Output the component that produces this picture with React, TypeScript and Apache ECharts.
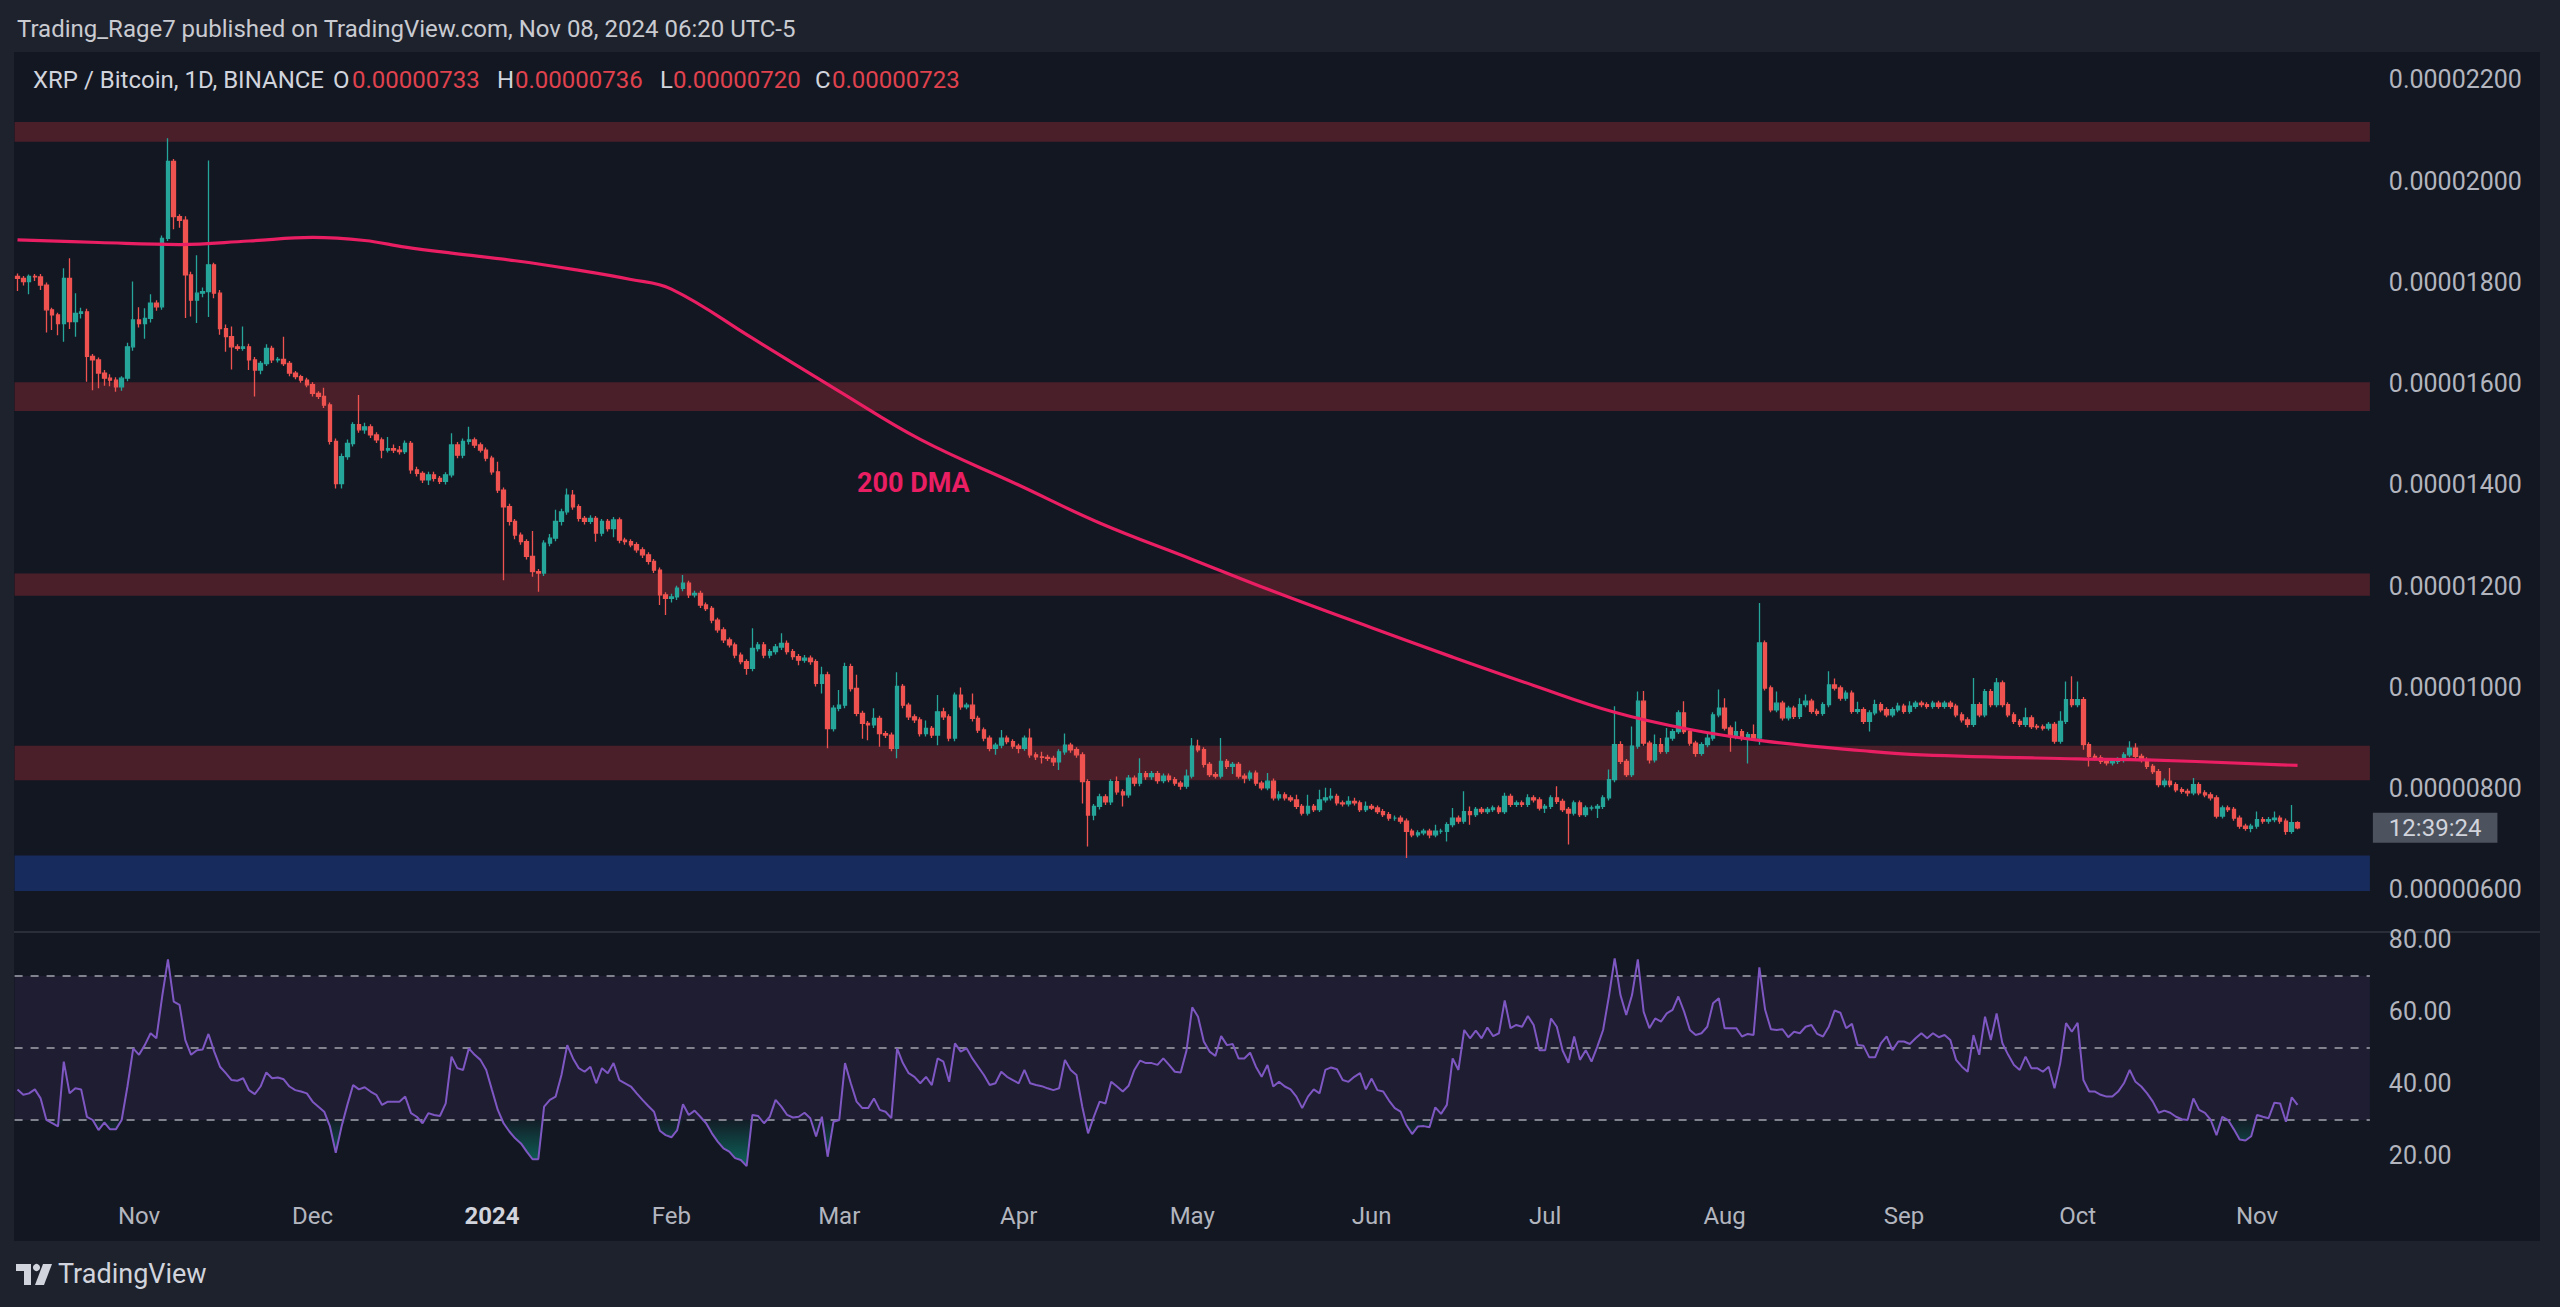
import React, { useEffect, useRef } from "react";
import * as echarts from "echarts";

const FONT = "Roboto, 'Liberation Sans', sans-serif";
const UP = "#26a69a";
const DOWN = "#ef5350";
const TEXT = "#b2b5be";

// ---- time range (daily) ----
const START_DATE = "2023-10-11";
const NUM_DAYS = 407; // through 2024-11-20 (empty right margin)
const MONTHS = ["Jan", "Feb", "Mar", "Apr", "May", "Jun", "Jul", "Aug", "Sep", "Oct", "Nov", "Dec"];

// ---- price data in satoshis (1e-8 BTC) ----
const firstOpen = 1812;
const closeOct23 = [1808, 1802, 1812, 1811, 1795, 1746, 1736, 1719, 1808, 1723, 1739, 1742, 1654, 1647, 1621, 1611, 1607, 1594, 1611, 1673, 1726];
const upOct23 = [6, 5, 4, 5, 6, 5, 4, 4, 20, 40, 40, 8, 6, 5, 5, 6, 8, 6, 4, 8, 76];
const dnOct23 = [25, 8, 25, 8, 10, 45, 30, 23, 36, 15, 30, 10, 50, 60, 30, 15, 12, 10, 8, 6, 8];

const closeNov23 = [1719, 1729, 1759, 1752, 1887, 2039, 1930, 1923, 1815, 1765, 1779, 1782, 1835, 1779, 1709, 1693, 1673, 1670, 1673, 1647, 1627, 1640, 1670, 1647, 1648, 1640, 1621, 1614, 1607, 1598];
const upNov23 = [25, 20, 18, 6, 6, 46, 5, 5, 8, 6, 75, 8, 206, 4, 6, 8, 20, 5, 40, 6, 6, 5, 8, 5, 5, 45, 5, 4, 4, 5];
const dnNov23 = [8, 30, 8, 8, 6, 5, 25, 15, 85, 32, 45, 8, 50, 10, 12, 30, 45, 5, 5, 20, 52, 8, 5, 6, 5, 5, 6, 5, 5, 5];

const closeDec23 = [1581, 1575, 1558, 1486, 1403, 1456, 1482, 1519, 1509, 1515, 1499, 1489, 1469, 1472, 1469, 1466, 1482, 1430, 1423, 1410, 1420, 1413, 1407, 1420, 1479, 1459, 1486, 1489, 1479, 1469, 1453];
const upDec23 = [5, 4, 17, 5, 6, 6, 8, 5, 59, 8, 5, 5, 5, 23, 8, 8, 6, 5, 6, 4, 6, 6, 5, 5, 23, 6, 6, 26, 5, 5, 5];
const dnDec23 = [6, 5, 6, 6, 10, 10, 6, 6, 6, 8, 6, 6, 16, 5, 6, 6, 5, 8, 6, 6, 10, 6, 5, 6, 5, 6, 6, 6, 6, 5, 6];

const closeJan24 = [1426, 1390, 1357, 1328, 1301, 1288, 1259, 1229, 1226, 1285, 1295, 1328, 1347, 1380, 1357, 1334, 1328, 1334, 1305, 1328, 1314, 1331, 1291, 1288, 1282, 1272, 1262, 1249, 1232, 1183, 1176];
const upJan24 = [5, 20, 5, 6, 5, 5, 5, 50, 5, 6, 8, 23, 6, 13, 10, 5, 5, 6, 5, 5, 5, 6, 5, 5, 5, 5, 5, 5, 5, 5, 5];
const dnJan24 = [6, 6, 145, 8, 8, 6, 6, 10, 37, 6, 6, 6, 8, 6, 6, 6, 6, 5, 17, 6, 6, 17, 6, 6, 5, 6, 6, 6, 6, 20, 33];

const closeFeb24 = [1179, 1196, 1206, 1183, 1186, 1163, 1156, 1133, 1114, 1094, 1084, 1064, 1051, 1038, 1077, 1084, 1064, 1071, 1080, 1087, 1071, 1061, 1054, 1058, 1051, 1008, 1025, 919, 959];
const upFeb24 = [6, 5, 16, 5, 5, 5, 5, 5, 5, 5, 5, 5, 5, 5, 40, 6, 6, 5, 6, 20, 6, 5, 5, 6, 5, 5, 16, 6, 6];
const dnFeb24 = [8, 6, 6, 6, 5, 6, 5, 6, 6, 6, 5, 6, 5, 13, 6, 6, 6, 6, 6, 6, 6, 6, 10, 5, 6, 6, 20, 39, 6];

const closeMar24 = [965, 1041, 998, 949, 929, 926, 939, 909, 906, 880, 1002, 965, 942, 936, 909, 919, 906, 952, 942, 900, 985, 962, 965, 939, 916, 900, 880, 886, 900, 893, 884];
const upMar24 = [30, 8, 6, 27, 5, 5, 20, 5, 5, 5, 28, 5, 5, 5, 5, 16, 5, 33, 8, 5, 5, 15, 5, 23, 5, 5, 5, 5, 16, 5, 5];
const dnMar24 = [6, 6, 6, 6, 30, 30, 6, 26, 6, 6, 20, 6, 6, 6, 6, 6, 6, 20, 6, 6, 6, 6, 5, 6, 6, 6, 6, 13, 6, 5, 5];

const closeApr24 = [880, 900, 867, 863, 862, 860, 853, 873, 886, 877, 867, 814, 748, 765, 784, 774, 814, 794, 788, 821, 811, 830, 824, 830, 816, 825, 818, 811, 805, 825];
const upApr24 = [5, 5, 19, 5, 10, 5, 5, 5, 23, 5, 5, 5, 5, 5, 6, 5, 5, 10, 5, 6, 5, 30, 5, 5, 5, 5, 5, 5, 5, 13];
const dnApr24 = [10, 5, 6, 6, 12, 5, 8, 16, 6, 6, 6, 43, 62, 10, 6, 6, 6, 6, 23, 6, 6, 6, 6, 6, 6, 5, 5, 5, 7, 5];

const closeMay24 = [884, 877, 848, 828, 825, 854, 844, 848, 825, 821, 831, 811, 802, 815, 782, 788, 782, 778, 765, 752, 765, 759, 778, 782, 785, 772, 770, 775, 772, 759, 765];
const upMay24 = [16, 13, 5, 5, 5, 46, 5, 5, 5, 5, 5, 5, 5, 16, 5, 7, 5, 5, 10, 5, 23, 5, 20, 20, 16, 5, 5, 10, 7, 5, 10];
const dnMay24 = [5, 5, 6, 5, 5, 5, 5, 15, 5, 10, 5, 5, 5, 5, 5, 5, 5, 4, 5, 5, 5, 5, 5, 5, 5, 5, 5, 5, 5, 5, 5];

const closeJun24 = [762, 755, 749, 742, 742, 736, 716, 709, 713, 716, 709, 716, 716, 729, 742, 736, 755, 749, 759, 755, 759, 762, 755, 785, 769, 772, 769, 782, 778, 762];
const upJun24 = [5, 5, 5, 5, 5, 5, 5, 5, 5, 5, 5, 13, 5, 5, 20, 5, 40, 10, 5, 5, 5, 5, 5, 7, 5, 5, 5, 7, 5, 5];
const dnJun24 = [4, 5, 5, 5, 5, 5, 53, 5, 5, 5, 7, 5, 5, 20, 5, 5, 5, 20, 5, 5, 5, 5, 5, 5, 5, 5, 5, 5, 5, 5];

const closeJul24 = [765, 782, 775, 759, 752, 772, 749, 762, 762, 765, 782, 818, 887, 854, 828, 884, 973, 890, 857, 887, 874, 900, 913, 950, 913, 890, 870, 887, 900, 946, 959];
const upJul24 = [5, 5, 23, 5, 5, 5, 5, 5, 5, 5, 5, 20, 76, 7, 5, 39, 19, 20, 5, 20, 13, 20, 5, 5, 23, 5, 5, 5, 10, 5, 37];
const dnJul24 = [10, 5, 5, 5, 62, 5, 5, 5, 5, 20, 5, 5, 5, 5, 5, 5, 5, 5, 7, 5, 5, 5, 5, 5, 5, 5, 7, 5, 5, 5, 5];

const closeAug24 = [920, 903, 913, 900, 907, 900, 1088, 999, 956, 969, 940, 959, 943, 966, 973, 953, 949, 966, 1005, 999, 979, 989, 953, 956, 933, 950, 966, 956, 946, 956, 963];
const upAug24 = [20, 5, 20, 5, 5, 20, 79, 5, 5, 23, 5, 5, 5, 13, 13, 5, 5, 5, 27, 13, 5, 5, 5, 16, 5, 5, 10, 5, 5, 5, 7];
const dnAug24 = [5, 30, 5, 5, 50, 5, 13, 5, 5, 5, 5, 5, 5, 5, 5, 5, 5, 5, 5, 5, 5, 5, 5, 5, 5, 20, 5, 5, 5, 5, 5];

const closeSep24 = [953, 963, 969, 966, 963, 969, 963, 969, 963, 946, 936, 927, 966, 946, 992, 966, 1009, 966, 946, 933, 927, 940, 923, 922, 920, 927, 894, 933, 976, 966];
const upSep24 = [5, 10, 5, 5, 5, 5, 5, 5, 5, 5, 5, 5, 53, 5, 5, 5, 10, 5, 5, 5, 5, 20, 5, 5, 5, 5, 5, 20, 36, 46];
const dnSep24 = [5, 5, 5, 5, 5, 5, 5, 5, 5, 5, 5, 6, 5, 5, 5, 5, 5, 5, 5, 5, 5, 5, 5, 5, 5, 5, 5, 5, 5, 5];

const closeOct24 = [976, 887, 864, 861, 854, 851, 854, 857, 867, 880, 864, 857, 844, 834, 808, 815, 808, 798, 795, 792, 808, 792, 788, 782, 746, 762, 759, 742, 726, 722, 726];
const upOct24 = [36, 5, 5, 5, 5, 5, 5, 5, 5, 14, 10, 5, 5, 5, 5, 5, 26, 5, 5, 5, 13, 5, 5, 5, 5, 5, 5, 5, 5, 5, 5];
const dnOct24 = [5, 10, 20, 5, 5, 5, 5, 5, 5, 5, 5, 5, 5, 5, 5, 5, 5, 5, 5, 7, 5, 5, 5, 5, 5, 5, 5, 5, 5, 5, 8];

const closeNov24 = [739, 736, 739, 742, 736, 716, 733, 723];
const upNov24 = [16, 5, 5, 13, 5, 5, 35, 3];
const dnNov24 = [5, 5, 5, 5, 5, 7, 5, 3];

// ---- RSI (14) ----
const rsiOct23 = [38.5, 37.0, 37.4, 38.5, 36.0, 30.0, 29.1, 28.2, 46.2, 37.4, 38.8, 38.5, 30.9, 30.0, 27.2, 29.3, 27.4, 27.4, 30.0, 39.3, 49.9];
const rsiNov23 = [48.1, 50.8, 54.1, 52.7, 64.3, 74.6, 62.9, 62.0, 52.2, 48.1, 49.4, 49.6, 53.9, 49.0, 44.8, 43.0, 41.1, 40.9, 41.6, 38.3, 37.2, 39.3, 43.2, 41.6, 41.8, 41.3, 39.3, 38.3, 37.9, 37.4];
const rsiDec23 = [35.1, 33.7, 32.3, 28.2, 20.9, 28.2, 34.2, 39.7, 38.5, 39.1, 37.9, 37.0, 34.2, 35.1, 35.1, 35.1, 36.5, 31.9, 30.9, 29.1, 31.9, 31.4, 31.1, 34.6, 47.6, 44.4, 43.9, 49.9, 48.1, 46.7, 43.9];
const rsiJan24 = [38.3, 32.8, 29.1, 26.8, 24.9, 23.5, 21.2, 19.1, 19.1, 33.7, 35.6, 36.5, 42.5, 50.8, 47.1, 44.4, 43.4, 44.8, 40.2, 44.4, 43.0, 45.8, 41.1, 40.2, 39.3, 37.4, 35.6, 33.9, 32.3, 27.0, 25.8];
const rsiFeb24 = [25.2, 27.2, 34.4, 31.4, 32.6, 30.9, 29.1, 26.3, 24.0, 22.1, 21.2, 19.4, 18.9, 17.2, 31.4, 31.1, 29.1, 30.9, 35.6, 33.7, 31.4, 30.7, 30.9, 32.0, 30.5, 25.4, 30.9, 19.8, 29.5];
const rsiMar24 = [30.0, 45.8, 40.2, 35.1, 33.3, 33.3, 36.0, 32.8, 32.3, 30.5, 49.9, 45.8, 43.0, 42.0, 40.2, 42.0, 39.7, 47.1, 46.2, 40.6, 51.3, 49.0, 49.9, 47.1, 44.8, 42.5, 39.7, 40.2, 43.4, 42.0, 41.1];
const rsiApr24 = [40.2, 43.9, 40.2, 39.7, 39.4, 38.8, 38.3, 38.8, 46.7, 43.9, 42.5, 33.7, 26.3, 30.9, 35.1, 34.6, 40.6, 39.3, 37.9, 39.5, 43.9, 46.5, 45.8, 45.8, 45.3, 47.1, 45.3, 43.4, 43.2, 49.2];
const rsiMay24 = [61.3, 58.7, 51.8, 49.0, 47.8, 53.3, 50.8, 51.1, 47.1, 47.1, 48.7, 44.8, 42.0, 45.3, 39.3, 40.6, 39.3, 38.5, 36.5, 33.3, 36.5, 38.5, 37.4, 43.9, 44.6, 44.1, 41.1, 40.6, 42.0, 43.0, 38.5];
const rsiJun24 = [41.5, 38.3, 37.9, 35.4, 33.3, 32.3, 28.6, 26.1, 28.2, 28.3, 28.0, 33.5, 31.7, 34.2, 47.1, 43.9, 55.0, 52.7, 54.8, 52.7, 55.7, 53.3, 54.1, 63.2, 55.5, 56.4, 55.9, 58.9, 56.4, 49.4];
const rsiJul24 = [49.4, 58.2, 55.9, 49.3, 45.9, 53.2, 46.7, 49.4, 46.2, 50.4, 55.0, 64.3, 74.9, 64.7, 59.2, 64.7, 74.6, 60.1, 55.5, 58.2, 57.3, 59.6, 60.6, 64.3, 60.1, 55.0, 53.6, 54.1, 55.9, 62.4, 63.8];
const rsiAug24 = [55.5, 55.5, 55.5, 53.2, 53.9, 53.6, 72.4, 60.6, 55.2, 55.0, 55.2, 53.0, 54.5, 54.1, 55.9, 56.4, 53.9, 53.2, 55.9, 60.4, 59.8, 55.5, 56.7, 50.8, 50.6, 47.4, 47.4, 51.3, 53.2, 49.4, 51.8];
const rsiSep24 = [51.8, 51.1, 52.7, 54.1, 52.7, 54.1, 53.0, 53.6, 52.2, 46.7, 44.8, 43.4, 53.6, 48.1, 58.7, 52.2, 59.6, 51.3, 48.1, 45.3, 43.9, 47.6, 44.4, 44.4, 43.4, 44.8, 38.8, 45.8, 56.9, 54.5];
const rsiOct24 = [57.0, 41.1, 37.9, 37.9, 37.0, 36.5, 36.5, 37.9, 40.2, 43.9, 40.6, 39.3, 37.4, 35.1, 32.0, 32.6, 32.0, 30.9, 30.2, 30.0, 36.0, 32.8, 32.0, 30.0, 25.8, 30.9, 30.0, 27.4, 24.6, 24.3, 25.5];
const rsiNov24 = [31.4, 30.9, 30.5, 34.8, 34.6, 29.5, 36.3, 34.2];

// ---- 200-day moving average (read at anchor dates) ----
const dmaDates = ["2023-10-11", "2023-10-25", "2023-11-08", "2023-11-20", "2023-12-01", "2023-12-10", "2023-12-17", "2023-12-25", "2024-01-05", "2024-01-15", "2024-01-25", "2024-02-01", "2024-02-15", "2024-03-01", "2024-03-15", "2024-04-01", "2024-04-15", "2024-05-01", "2024-05-15", "2024-06-01", "2024-06-15", "2024-06-29", "2024-07-13", "2024-07-26", "2024-08-08", "2024-08-25", "2024-09-04", "2024-10-01", "2024-10-13", "2024-11-08"];
const dmaValues = [1884, 1879, 1875, 1882, 1889, 1883, 1870, 1858, 1843, 1826, 1806, 1787, 1690, 1585, 1490, 1400, 1325, 1253, 1190, 1118, 1060, 1004, 951, 917, 894, 875, 867, 859, 857, 846];

// ---- horizontal zones (satoshis) ----
const resistanceZones = [[2078, 2117], [1546, 1603], [1181, 1225], [817, 885]];
const supportZone = [598, 668];

const priceTicks = [600, 800, 1000, 1200, 1400, 1600, 1800, 2000, 2200];
const rsiTicks = [20, 40, 60, 80];
const rsiLevels = [70, 50, 30];

// ---- assemble ----
const closes = [...closeOct23, ...closeNov23, ...closeDec23, ...closeJan24, ...closeFeb24, ...closeMar24, ...closeApr24, ...closeMay24, ...closeJun24, ...closeJul24, ...closeAug24, ...closeSep24, ...closeOct24, ...closeNov24];
const ups = [...upOct23, ...upNov23, ...upDec23, ...upJan24, ...upFeb24, ...upMar24, ...upApr24, ...upMay24, ...upJun24, ...upJul24, ...upAug24, ...upSep24, ...upOct24, ...upNov24];
const dns = [...dnOct23, ...dnNov23, ...dnDec23, ...dnJan24, ...dnFeb24, ...dnMar24, ...dnApr24, ...dnMay24, ...dnJun24, ...dnJul24, ...dnAug24, ...dnSep24, ...dnOct24, ...dnNov24];
const rsi = [...rsiOct23, ...rsiNov23, ...rsiDec23, ...rsiJan24, ...rsiFeb24, ...rsiMar24, ...rsiApr24, ...rsiMay24, ...rsiJun24, ...rsiJul24, ...rsiAug24, ...rsiSep24, ...rsiOct24, ...rsiNov24];

const DAY = 86400000;
const startMs = Date.parse(START_DATE + "T00:00:00Z");
const categories = Array.from({ length: NUM_DAYS }, (_, i) => new Date(startMs + i * DAY).toISOString().slice(0, 10));

const candles = closes.map((c, i) => {
  const o = i === 0 ? firstOpen : closes[i - 1];
  const hi = Math.max(o, c) + (ups[i] ?? 4);
  const lo = Math.min(o, c) - (dns[i] ?? 4);
  return [o, c, lo, hi];
});
const last = candles[candles.length - 1];
const fmtPrice = (v: number) => (v / 1e8).toFixed(8);

const dmaMap: Record<string, number> = {};
dmaDates.forEach((d, i) => (dmaMap[d] = dmaValues[i]));
const dmaSeries = categories.map((d) => (d in dmaMap ? dmaMap[d] : null));

// layout constants
const DAY_PX = 5.7869;
const GRID_LEFT = 14.6;
const GRID_WIDTH = NUM_DAYS * DAY_PX;

function buildOption(): any {
  const txt = (text: string, x: number, y: number, fill: string, size = 24, weight: any = "normal", align = "left") => ({
    type: "text",
    x,
    y,
    z: 100,
    silent: true,
    style: { text, fill, fontSize: size, fontWeight: weight, fontFamily: FONT, align, verticalAlign: "middle" },
  });
  const red = "#e0424e";
  const graphic: any[] = [
    txt("Trading_Rage7 published on TradingView.com, Nov 08, 2024 06:20 UTC-5", 17, 29, "#c9cbd1", 24),
    txt("XRP / Bitcoin, 1D, BINANCE", 33, 80, "#d1d4dc", 24),
    txt("O", 333, 80, "#d1d4dc", 24),
    txt(fmtPrice(last[0]), 352, 80, red, 24),
    txt("H", 497, 80, "#d1d4dc", 24),
    txt(fmtPrice(last[3]), 515, 80, red, 24),
    txt("L", 660, 80, "#d1d4dc", 24),
    txt(fmtPrice(last[2]), 673, 80, red, 24),
    txt("C", 815, 80, "#d1d4dc", 24),
    txt(fmtPrice(last[1]), 832, 80, red, 24),
    txt("200 DMA", 857, 483, "#e91e63", 27, "bold"),
    // footer logo
    { type: "polygon", z: 100, silent: true, shape: { points: [[16, 1264], [31, 1264], [31, 1285], [24, 1285], [24, 1271], [16, 1271]] }, style: { fill: "#d1d4dc" } },
    { type: "circle", z: 100, silent: true, shape: { cx: 36.5, cy: 1267.5, r: 3.6 }, style: { fill: "#d1d4dc" } },
    { type: "polygon", z: 100, silent: true, shape: { points: [[43, 1264], [52, 1264], [44, 1285], [35, 1285]] }, style: { fill: "#d1d4dc" } },
    txt("TradingView", 58, 1274, "#d1d4dc", 27),
  ];

  const oversoldGrad = new echarts.graphic.LinearGradient(0, 0, 0, 1, [
    { offset: 0, color: "rgba(8,153,129,0.05)" },
    { offset: 1, color: "rgba(8,153,129,0.6)" },
  ]);

  return {
    animation: false,
    backgroundColor: "transparent",
    textStyle: { fontFamily: FONT },
    grid: [
      { left: GRID_LEFT, width: GRID_WIDTH, top: 52, height: 879 },
      { left: GRID_LEFT, width: GRID_WIDTH, top: 932, height: 260 },
    ],
    xAxis: [
      { type: "category", gridIndex: 0, data: categories, boundaryGap: true, show: false },
      {
        type: "category",
        gridIndex: 1,
        data: categories,
        boundaryGap: true,
        axisLine: { show: false },
        axisTick: { show: false },
        splitLine: { show: false },
        axisLabel: {
          interval: (_i: number, v: string) => v.slice(8) === "01",
          formatter: (v: string) => {
            const m = parseInt(v.slice(5, 7), 10);
            return m === 1 ? "{b|" + v.slice(0, 4) + "}" : MONTHS[m - 1];
          },
          color: TEXT,
          fontSize: 24,
          fontFamily: FONT,
          margin: 12,
          rich: { b: { fontWeight: "bold", color: "#d1d4dc", fontSize: 24, fontFamily: FONT } },
        },
      },
    ],
    yAxis: [
      {
        type: "value",
        gridIndex: 0,
        position: "right",
        min: 519,
        max: 2255.3,
        axisLine: { show: false },
        axisTick: { show: false },
        splitLine: { show: false },
        axisLabel: { customValues: priceTicks, formatter: (v: number) => fmtPrice(v), color: TEXT, fontSize: 25, fontFamily: FONT, margin: 19 },
      },
      {
        type: "value",
        gridIndex: 1,
        position: "right",
        min: 10,
        max: 82.22,
        axisLine: { show: false },
        axisTick: { show: false },
        splitLine: { show: false },
        axisLabel: { customValues: rsiTicks, formatter: (v: number) => v.toFixed(2), color: TEXT, fontSize: 25, fontFamily: FONT, margin: 19 },
      },
    ],
    series: [
      {
        type: "candlestick",
        xAxisIndex: 0,
        yAxisIndex: 0,
        data: candles,
        barWidth: 4,
        itemStyle: { color: UP, color0: DOWN, borderColor: UP, borderColor0: DOWN, borderWidth: 1.3 },
        markArea: {
          silent: true,
          data: [
            ...resistanceZones.map((z) => [{ yAxis: z[0], itemStyle: { color: "rgba(242,54,69,0.25)" } }, { yAxis: z[1] }]),
            [{ yAxis: supportZone[0], itemStyle: { color: "rgba(41,98,255,0.27)" } }, { yAxis: supportZone[1] }],
          ],
        },
        markLine: {
          silent: true,
          symbol: ["none", "none"],
          lineStyle: { width: 0, color: "rgba(0,0,0,0)" },
          data: [{ yAxis: last[1] }],
          label: {
            show: true,
            position: "end",
            distance: 3,
            formatter: "12:39:24",
            backgroundColor: "#4c525e",
            color: "#d1d4dc",
            fontSize: 24,
            fontFamily: FONT,
            padding: [3, 16, 3, 16],
          },
        },
      },
      {
        type: "line",
        xAxisIndex: 0,
        yAxisIndex: 0,
        data: dmaSeries,
        connectNulls: true,
        smooth: 0.4,
        showSymbol: false,
        symbol: "none",
        silent: true,
        lineStyle: { color: "#e91e63", width: 3.2 },
        z: 3,
      },
      {
        type: "line",
        xAxisIndex: 1,
        yAxisIndex: 1,
        stack: "os",
        data: rsi.map((v) => Math.min(v, 30)),
        symbol: "none",
        silent: true,
        lineStyle: { width: 0, opacity: 0 },
      },
      {
        type: "line",
        xAxisIndex: 1,
        yAxisIndex: 1,
        stack: "os",
        data: rsi.map((v) => 30 - Math.min(v, 30)),
        symbol: "none",
        silent: true,
        lineStyle: { width: 0, opacity: 0 },
        areaStyle: { color: oversoldGrad, opacity: 1 },
      },
      {
        type: "line",
        xAxisIndex: 1,
        yAxisIndex: 1,
        data: rsi,
        symbol: "none",
        showSymbol: false,
        silent: true,
        lineStyle: { color: "#7e57c2", width: 2 },
        z: 5,
        markArea: { silent: true, itemStyle: { color: "rgba(126,87,194,0.1)" }, data: [[{ yAxis: 30 }, { yAxis: 70 }]] },
        markLine: {
          silent: true,
          symbol: ["none", "none"],
          label: { show: false },
          lineStyle: { color: "#80838d", type: [8, 8], width: 2 },
          data: rsiLevels.map((v) => ({ yAxis: v })),
        },
      },
    ],
    graphic,
  };
}

export default function App() {
  const ref = useRef<HTMLDivElement>(null);
  useEffect(() => {
    if (!ref.current) return;
    const chart = echarts.init(ref.current, null, { renderer: "svg" });
    chart.setOption(buildOption());
    return () => chart.dispose();
  }, []);
  return (
    <div style={{ position: "absolute", left: 0, top: 0, width: 2560, height: 1307, background: "#1e222d", overflow: "hidden" }}>
      <div style={{ position: "absolute", left: 14, top: 52, width: 2526, height: 1189, background: "#131722" }} />
      <div style={{ position: "absolute", left: 14, top: 931, width: 2526, height: 2, background: "#2a2e39" }} />
      <div ref={ref} style={{ position: "absolute", left: 0, top: 0, width: 2560, height: 1307 }} />
    </div>
  );
}
